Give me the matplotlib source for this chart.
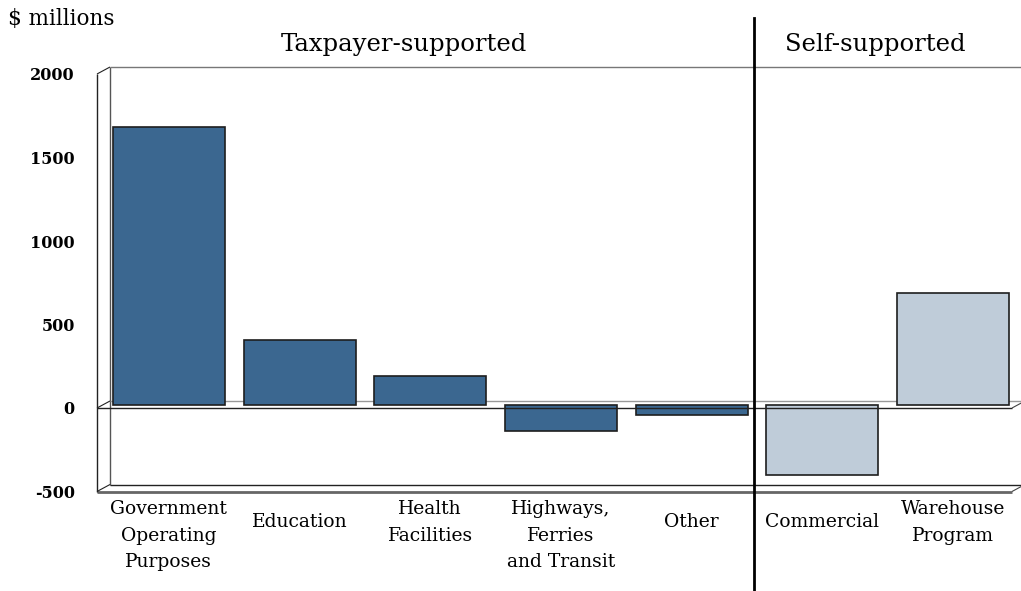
import matplotlib
matplotlib.use('Agg')
from matplotlib import pyplot as plt
from matplotlib import transforms

# values, $ millions
categories = ['Government\nOperating\nPurposes', 'Education', 'Health\nFacilities',
              'Highways,\nFerries\nand Transit', 'Other', 'Commercial', 'Warehouse\nProgram']
values = [1660, 385, 170, -160, -65, -425, 670]
groups = ['Taxpayer-supported', 'Self-supported']
group_sizes = [5, 2]
yticks = [2000, 1500, 1000, 500, 0, -500]

dark_blue = '#3b6790'
light_blue = '#bfccd9'
font = 'DejaVu Serif'

W, H = 1021, 591
fig = plt.figure(figsize=(W / 100, H / 100), dpi=100)
# front plane of the pseudo-3d box, in pixels
x0, x1 = 97, 1012
ybot, ytop = 491.5, 74
ax = fig.add_axes([x0 / W, 1 - ybot / H, (x1 - x0) / W, (ybot - ytop) / H])
n = len(values)
ax.set_xlim(0, n)
ax.set_ylim(yticks[-1], yticks[0])
for s in ax.spines.values():
    s.set_visible(False)
ax.set_xticks([])
ax.set_yticks(yticks)
ax.set_yticklabels([str(t) for t in yticks], fontfamily=font,
                   fontweight='bold', fontsize=11.5)
ax.tick_params(axis='y', length=0, pad=16)

# depth of the box: 13 px right, 7 px up
dx = 13 / ((x1 - x0) / n)
dy = 7 / ((ybot - ytop) / (yticks[0] - yticks[-1]))
lo, hi = yticks[-1], yticks[0]
px = (hi - lo) / (ybot - ytop)  # data units per pixel, vertical
kw = dict(clip_on=False, solid_capstyle='butt')

# back wall and floor
ax.plot([dx, dx], [lo + dy, hi + dy], color='#555555', lw=1, zorder=1, **kw)
ax.plot([dx, n + dx + 0.2], [hi + dy, hi + dy], color='#777777', lw=1, zorder=1, **kw)
ax.plot([dx, n + dx], [lo + dy, lo + dy], color='#222222', lw=1, zorder=1, **kw)
ax.plot([dx, n + dx], [dy, dy], color='#999999', lw=1, zorder=1, **kw)
# left wall front
ax.plot([0, 0], [lo, hi], color='#222222', lw=1, zorder=4, **kw)
for yy in (lo, 0, hi):
    ax.plot([0, dx], [yy, yy + dy], color='#222222', lw=0.8, zorder=4, **kw)
for yy in (lo, 0):
    ax.plot([n, n + dx], [yy, yy + dy], color='#444444', lw=0.8, zorder=4, **kw)

# bars sit half way into the box
off = transforms.ScaledTranslation(6.5 / 100, 3.5 / 100, fig.dpi_scale_trans)
colors = [dark_blue] * group_sizes[0] + [light_blue] * group_sizes[1]
xs = [i + 0.5 for i in range(n)]
ax.bar(xs, values, width=0.857, color=colors, edgecolor='#1e1e1e', linewidth=1.2,
       transform=ax.transData + off, zorder=2, clip_on=False)

# front edges drawn over the bars
ax.plot([0, n], [0, 0], color='#222222', lw=1, zorder=3, **kw)
ax.plot([0, n], [lo, lo], color='#666666', lw=2, zorder=3, **kw)

# category labels
for x, lab in zip(xs, categories):
    nl = lab.count('\n') + 1
    ax.text(x + dx / 2, lo - (8.5 if nl > 1 else 21.5) * px, lab,
            ha='center', va='top', fontfamily=font, fontsize=13.5, linespacing=1.62,
            clip_on=False)

# group divider and headings
split = group_sizes[0]
tr = transforms.blended_transform_factory(ax.transData, fig.transFigure)
ax.plot([split + 0.03, split + 0.03], [0, 1 - 18 / H], color='black', lw=2,
        transform=tr, clip_on=False, zorder=5)
head_x = [2.35, 5.95]
for g, hx in zip(groups, head_x):
    ax.text(hx, 1 - 45 / H, g, transform=tr, ha='center', va='center',
            fontfamily=font, fontsize=17.5)

fig.text(8 / W, 1 - 19 / H, '$ millions', ha='left', va='center', fontfamily=font, fontsize=15.5)

fig.savefig('out.png', dpi=100)
